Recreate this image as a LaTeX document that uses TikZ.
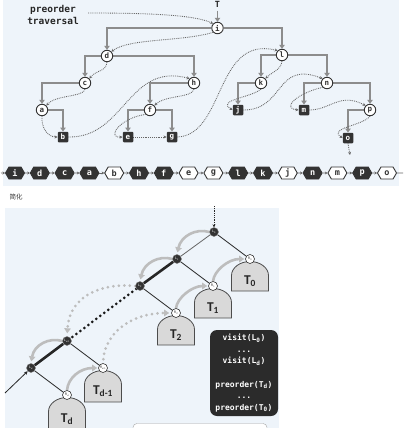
\documentclass[tikz,border=0pt]{standalone}
\usepackage{fontspec}
\setmonofont{DejaVu Sans Mono}
\newfontfamily\calib{Carlito}
\newfontfamily\cjk{Noto Sans CJK SC}
\usetikzlibrary{arrows.meta,shapes.symbols}
\definecolor{panel}{HTML}{EEF4FA}
\definecolor{edgegray}{HTML}{8C8C8C}
\definecolor{travgray}{HTML}{666666}
\definecolor{darkfill}{HTML}{333333}
\definecolor{arcgray}{HTML}{BDBDBD}
\definecolor{treegray}{HTML}{D9D9D9}
\definecolor{boxdark}{HTML}{2B2B2B}
\pgfdeclarelayer{bg}
\pgfdeclarelayer{tr}
\pgfdeclarelayer{ed}
\pgfsetlayers{bg,tr,ed,main}
\newcommand\mysubtree[5]{%
  \draw[treestyle] (#1-18.5,#3) -- (#1-18.5,#2+14) .. controls (#1-18.5,#2+6.3) and (#1-10.2,#2) .. (#1,#2)
     .. controls (#1+10.2,#2) and (#1+18.5,#2+6.3) .. (#1+18.5,#2+14) -- (#1+18.5,#3) -- cycle;
  \node[tlabel] at (#1,#5) {#4};}
\begin{document}
\begin{tikzpicture}[x=1pt,y=-1pt,
  inode/.style={circle,draw=darkfill,fill=white,line width=0.9pt,inner sep=0pt,minimum size=11.5pt,text=darkfill,font=\ttfamily\bfseries\fontsize{7.5}{7.5}\selectfont},
  leaf/.style={rectangle,rounded corners=1pt,fill=darkfill,text=white,inner sep=0pt,minimum size=10.5pt,font=\ttfamily\bfseries\fontsize{7.5}{7.5}\selectfont},
  tedge/.style={draw=edgegray,line width=2.2pt,-{Triangle[length=4pt,width=5.5pt]}},
  trav/.style={draw=travgray,line width=0.85pt,densely dotted,-{Stealth[length=3pt,width=3pt]}},
  hex/.style={shape=signal,signal to=east and west,signal pointer angle=120,minimum width=19pt,minimum height=12pt,inner sep=0pt,line width=0.9pt,font=\ttfamily\bfseries\fontsize{8.5}{8.5}\selectfont},
  hexd/.style={hex,fill=darkfill,draw=darkfill,text=white},
  hexw/.style={hex,fill=white,draw=darkfill,text=darkfill},
  rowarr/.style={draw=travgray,line width=0.9pt,-{Stealth[length=2.5pt,width=3pt]}},
  lnode/.style={circle,fill=darkfill,draw=gray,line width=0.4pt,inner sep=0pt,minimum size=9pt,text=white,font=\sffamily\fontsize{3.5}{3.5}\selectfont},
  rnode/.style={circle,fill=white,draw=darkfill,line width=0.6pt,inner sep=0pt,minimum size=9pt,text=darkfill,font=\sffamily\fontsize{3.5}{3.5}\selectfont},
  treestyle/.style={fill=treegray,draw=black!70,line width=0.8pt},
  tlabel/.style={text=black!85,font=\calib\bfseries\fontsize{13.5}{13.5}\selectfont},
  lr/.style={draw=black!85,line width=0.8pt},
  spine/.style={draw=black!85,line width=2.6pt},
  spinedot/.style={draw=black!90,line width=3pt,line cap=round,dash pattern=on 0pt off 5pt},
  garc/.style={draw=arcgray,line width=2.6pt,-{Triangle[length=5pt,width=6.5pt]}},
  gdot/.style={draw=arcgray,line width=3pt,line cap=round,dash pattern=on 0pt off 5.5pt,-{Triangle[length=5pt,width=6.5pt]}},
  codebox/.style={rounded corners=7pt,fill=boxdark,text=white,minimum width=68pt,minimum height=86pt,align=center,inner sep=2pt,font=\ttfamily\bfseries\fontsize{8}{11.5}\selectfont}
]
\useasboundingbox (0,0) rectangle (404,428);
\begin{pgfonlayer}{bg}
  \fill[panel] (3,0) rectangle (399,186);
  \fill[panel] (5,208) rectangle (279,428);
  \begin{scope}
    \clip (0,0) rectangle (404,428);
    \draw[draw=black!35,fill=white,rounded corners=4pt] (133,423.5) rectangle (267,445);
  \end{scope}
\end{pgfonlayer}

% ---------- top: tree ----------
\node[align=center,text=black!85,font=\ttfamily\bfseries\fontsize{9.5}{12}\selectfont] (txt) at (53,15) {preorder\\traversal};
\node[font=\ttfamily\bfseries\fontsize{8.5}{8.5}\selectfont,text=black!85] (T) at (217.5,4) {T};
\node[inode] (i) at (217.5,28) {i};
\node[inode] (d) at (107,56) {d};
\node[inode] (c) at (85,83) {c};
\node[inode] (a) at (42,110) {a};
\node[leaf]  (b) at (63,137) {b};
\node[inode] (h) at (194,83) {h};
\node[inode] (f) at (150,110) {f};
\node[leaf]  (e) at (128,137) {e};
\node[leaf]  (g) at (172,137) {g};
\node[inode] (l) at (282,55) {l};
\node[inode] (k) at (261,83) {k};
\node[leaf]  (j) at (238,110) {j};
\node[inode] (n) at (327,83) {n};
\node[leaf]  (m) at (304,110) {m};
\node[inode] (p) at (370,110) {p};
\node[leaf]  (o) at (348,138) {o};
\coordinate (ptr) at (88,13);
\coordinate (oend) at (350,155);

\begin{pgfonlayer}{ed}
  \draw[tedge,line width=1.6pt] (T) -- (i);
  \foreach \u/\v in {i/d,i/l,d/c,d/h,c/a,a/b,h/f,f/e,f/g,l/k,l/n,k/j,n/m,n/p,p/o}
    \draw[tedge] (\u) -| (\v);
  \draw[trav] (ptr) .. controls (150,13) and (195,15) .. (i.north west);
  \draw[trav] (i.south west) .. controls (180,42) and (130,38) .. (d.north east);
  \draw[trav] (d.south) .. controls (106,72) and (96,70) .. (c.north east);
  \draw[trav] (c.south) .. controls (84,97) and (55,95) .. (a.north east);
  \draw[trav] (a.south) .. controls (41,128) and (48,137) .. (b.west);
  \draw[trav] (b.east) .. controls (125,138) and (128,62) .. (h.north west);
  \draw[trav] (h.south) .. controls (192,98) and (165,95) .. (f.north east);
  \draw[trav] (f.south west) .. controls (120,118) and (106,138) .. (e.west);
  \draw[trav] (e.east) -- (g.west);
  \draw[trav] (g.east) .. controls (225,135) and (215,35) .. (l.north west);
  \draw[trav] (l.south) .. controls (281,70) and (272,72) .. (k.north east);
  \draw[trav] (k.south) .. controls (250,98) and (216,100) .. (j.west);
  \draw[trav] (j.east) .. controls (285,110) and (275,60) .. (n.north west);
  \draw[trav] (n.south west) .. controls (300,92) and (280,108) .. (m.west);
  \draw[trav] (m.east) .. controls (330,110) and (340,92) .. (p.north west);
  \draw[trav] (p.south) .. controls (362,126) and (328,128) .. (o.west);
  \draw[trav] (o.south) -- (oend);
\end{pgfonlayer}

% ---------- top: sequence ----------
\foreach \lab/\sty [count=\k] in {i/hexd,d/hexd,c/hexd,a/hexd,b/hexw,h/hexd,f/hexd,e/hexw,g/hexw,l/hexd,k/hexd,j/hexw,n/hexd,m/hexw,p/hexd,o/hexw}
  \node[\sty] (q\k) at ({15+24.8*(\k-1)},173) {\lab};
\coordinate (rs) at (1,173);
\coordinate (re) at (403,173);
\draw[rowarr] (rs) -- (q1);
\foreach \k [evaluate=\k as \nx using int(\k+1)] in {1,...,15}
  \draw[rowarr] (q\k) -- (q\nx);
\draw[draw=travgray,line width=0.9pt] (q16) -- (re);

\node[anchor=west,text=black!80,font=\cjk\fontsize{6.5}{6.5}\selectfont] (jh) at (6,197) {简化};

% ---------- bottom ----------
\begin{pgfonlayer}{tr}
  \begin{scope}
    \clip (0,0) rectangle (404,428);
    \mysubtree{250}{261.5}{291}{T\textsubscript{0}}{281}
    \mysubtree{213}{288.5}{318}{T\textsubscript{1}}{308}
    \mysubtree{176}{315.5}{345}{T\textsubscript{2}}{335}
    \mysubtree{103}{370.5}{402}{T\textsubscript{d-1}}{391}
    \mysubtree{67}{397.5}{445}{T\textsubscript{d}}{419}
  \end{scope}
\end{pgfonlayer}

\node[lnode] (L0) at (214,232) {L\textsubscript{0}};
\node[lnode] (L1) at (177,259) {L\textsubscript{1}};
\node[lnode] (L2) at (140,286) {L\textsubscript{2}};
\node[lnode] (Ld1) at (67,341) {L\textsubscript{d-1}};
\node[lnode] (Ld) at (31,368) {L\textsubscript{d}};
\node[rnode] (R0) at (250,259) {R\textsubscript{0}};
\node[rnode] (R1) at (213,286) {R\textsubscript{1}};
\node[rnode] (R2) at (176,313) {R\textsubscript{2}};
\node[rnode] (Rd1) at (103,368) {R\textsubscript{d-1}};
\node[rnode] (Rd) at (67,395) {R\textsubscript{d}};
\coordinate (tin) at (214,206);
\coordinate (lin) at (5,393);

\node[codebox] (code) at (244,373) {visit(L\textsubscript{0})\\...\\visit(L\textsubscript{d})\\[12pt]preorder(T\textsubscript{d})\\...\\preorder(T\textsubscript{0})};

\begin{pgfonlayer}{ed}
  \draw[lr] (L0) -- (R0);
  \draw[lr] (L1) -- (R1);
  \draw[lr] (L2) -- (R2);
  \draw[lr] (Ld1) -- (Rd1);
  \draw[lr] (Ld) -- (Rd);
  \draw[lr,draw=black!60] (L0) -- (L1);
  \draw[spine] (L1) -- (L2);
  \draw[spinedot] (L2) -- (Ld1);
  \draw[spine] (Ld1) -- (Ld);
  \draw[lr,densely dotted,-{Stealth[length=3pt,width=3pt]}] (tin) -- (L0);
  \draw[lr,-{Stealth[length=3.5pt,width=3.5pt]}] (lin) -- (Ld);
  \draw[garc,shorten >=2pt] (L0.west) .. controls (196,228) and (181,236) .. (L1.north);
  \draw[garc,shorten >=2pt] (L1.west) .. controls (159,255) and (144,263) .. (L2.north);
  \draw[garc,shorten >=2pt] (Ld1.west) .. controls (49,337) and (34,345) .. (Ld.north);
  \draw[garc,shorten >=1pt] (Rd.north) .. controls (68,378) and (80,368) .. (Rd1.west);
  \draw[garc,shorten >=1pt] (R2.north) .. controls (177,298) and (192,286) .. (R1.west);
  \draw[garc,shorten >=1pt] (R1.north) .. controls (214,271) and (228,259) .. (R0.west);
  \draw[gdot,shorten >=3pt] (L2.west) .. controls (108,283) and (70,292) .. (Ld1.north);
  \draw[gdot,shorten <=4pt,shorten >=2pt] (Rd1.north) .. controls (106,330) and (135,313) .. (R2.west);
\end{pgfonlayer}
\end{tikzpicture}
\end{document}
